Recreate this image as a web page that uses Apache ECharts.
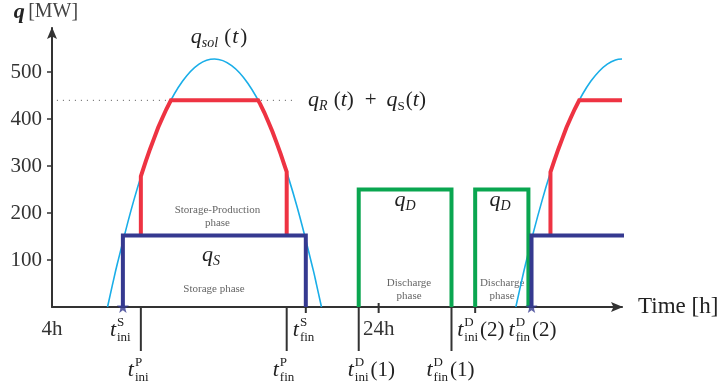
<!DOCTYPE html>
<html>
<head>
<meta charset="utf-8">
<script src="https://cdn.jsdelivr.net/npm/echarts@6/dist/echarts.min.js"></script>
<style>
  html, body { margin: 0; padding: 0; background: #fff; }
  #chart { width: 721px; height: 388px; }
</style>
</head>
<body>
<div id="chart"></div>
<script>
// ---- Data: time in hours, power in MW ----
// Solar field output q_sol(t), first day
const solarDay1 = [[7.4,0],[7.7,47],[8,92],[9,226],[10,336],[11,421],[12,481],[13,517],[13.95,528],[15,514],[16,476],[17,414],[18,326],[19,214],[20,78],[20.2,47],[20.5,0]];
// Solar field output, start of the following day (cut at the end of the time axis)
const solarDay2 = [[32.4,0],[32.7,47],[33,92],[33.5,162],[34,226],[34.5,284],[35,336],[35.5,382],[36,421],[36.5,454],[37,481],[37.5,502],[38,517],[38.5,526],[38.9,528]];
// Receiver + storage limit q_R(t) + q_S(t)
const limitLine = [[4.3,440],[18.94,440]];
// Production (solar output clipped at the limit) during the storage-production phase
const production1 = [[9.44,152],[9.44,278],[9.75,311],[10,336],[10.25,359],[10.5,382],[10.75,402],[11,421],[11.28,440],[16.62,440],[16.75,432],[17,414],[17.25,394],[17.5,373],[17.75,350],[18,326],[18.25,300],[18.37,288],[18.37,152]];
const production2 = [[34.52,152],[34.52,287],[34.75,311],[35,336],[35.25,359],[35.5,382],[35.75,402],[36,421],[36.28,440],[38.9,440]];
// Storage charging q_S
const storage1 = [[8.34,0],[8.34,152],[19.54,152],[19.54,0]];
const storage2 = [[33.36,0],[33.36,152],[39.1,152]];
// Discharge q_D
const discharge1 = [[22.78,0],[22.78,250],[28.46,250],[28.46,0]];
const discharge2 = [[29.91,0],[29.91,250],[33.17,250],[33.17,0]];
// Storage start instants
const storageStarts = [[8.34,0],[33.36,0]];
// Axis ticks
const yTickValues = [100,200,300,400,500];
const xTickHours = [4,24];
const longTickHours = [9.44,18.37,22.78,28.46];
const shortTickHours = [19.54,24,29.91];
// Time instants written under the axis
const markHours  = [8.34, 9.44, 18.37, 19.54, 22.78, 28.46, 29.91, 33.36];
const markSup    = ['S','P','P','S','D','D','D','D'];
const markSub    = ['ini','ini','fin','fin','ini','fin','ini','fin'];
const markSuffix = ['','','','','(1)','(1)','(2)','(2)'];

// ---- Styles ----
const FAM = '"Liberation Serif", "DejaVu Serif", serif';
const F_MI = 'italic 22px ' + FAM;
const F_MR = '21px ' + FAM;
const F_SC = '13px ' + FAM;
const F_SCI = 'italic 14px ' + FAM;
const INK = '#222';
const AXIS = '#333';
const C_SOL = '#1aaee8', C_RED = '#ee3342', C_NAVY = '#353990', C_GREEN = '#0aa650';
const ARROW = 'path://M5,0L10,12L5,9.5L0,12Z';

// under-axis label rows and horizontal offsets (px) of each instant label
const markLayout = [
  {row:1, dx:-13}, {row:2, dx:-13}, {row:2, dx:-14}, {row:1, dx:-13},
  {row:2, dx:-11}, {row:2, dx:-25}, {row:1, dx:-18}, {row:1, dx:-23}
];

const measureCtx = document.createElement('canvas').getContext('2d');
function textWidth(s, font) { measureCtx.font = font; return measureCtx.measureText(s).width; }

// lays out a small formula from pieces: plain text, gaps and stacked scripts
function buildMath(parts, x0, y, align, color) {
  const items = [];
  let x = 0;
  parts.forEach(p => {
    if (p.gap) { x += p.gap; return; }
    if (p.sup != null || p.sub != null) {
      let w = 0;
      if (p.sup) {
        const f = p.supFont || F_SC;
        items.push({s:p.sup, f, x, dy: p.supDy != null ? p.supDy : -7.5});
        w = Math.max(w, textWidth(p.sup, f));
      }
      if (p.sub) {
        const f = p.subFont || F_SC;
        items.push({s:p.sub, f, x, dy: p.subDy != null ? p.subDy : 7.5});
        w = Math.max(w, textWidth(p.sub, f));
      }
      x += w;
      return;
    }
    items.push({s:p.t, f:p.f, x, dy:0});
    x += textWidth(p.t, p.f);
  });
  const shift = align === 'center' ? -x / 2 : 0;
  return items.map(it => ({
    type: 'text', x: x0 + shift + it.x, y: y + it.dy,
    style: { text: it.s, font: it.f, fill: color, align: 'left', verticalAlign: 'middle' }
  }));
}
const q = () => ({t:'q', f:F_MI});
const qsub = (s, italic) => ({sub:s, subFont: italic ? F_SCI : F_SC, subDy:6});
const paren = () => [{t:'(', f:F_MR}, {t:'t', f:F_MI}, {t:')', f:F_MR}];

const formulas = [
  {at:[14.23,574], align:'center', parts:[q(), qsub('sol', true), {gap:6}, {t:'(', f:F_MR}, {gap:1}, {t:'t', f:F_MI}, {gap:2}, {t:')', f:F_MR}]},
  {at:[19.68,440], align:'left', parts:[q(), qsub('R', true), {gap:6}, ...paren(), {gap:11}, {t:'+', f:F_MR}, {gap:10}, q(), qsub('S', false), {gap:1}, ...paren()]},
  {at:[13.74,111], align:'center', parts:[q(), qsub('S', true)]},
  {at:[25.62,228], align:'center', parts:[q(), qsub('D', true)]},
  {at:[31.43,228], align:'center', parts:[q(), qsub('D', true)]}
];
const phaseNotes = [
  {at:[14.13,193], text:'Storage-Production\nphase'},
  {at:[13.92,39], text:'Storage phase'},
  {at:[25.86,37], text:'Discharge\nphase'},
  {at:[31.56,37], text:'Discharge\nphase'}
];

const STAR = 'path://M0,-10L2.35,-3.24L9.51,-3.09L3.8,1.24L5.88,8.09L0,4L-5.88,8.09L-3.8,1.24L-9.51,-3.09L-2.35,-3.24Z';

function lineSeries(data, color, width, z, extra) {
  return Object.assign({
    type: 'line', data, symbol: 'none', z,
    lineStyle: { color, width, cap: 'butt', join: 'miter' }, silent: true
  }, extra || {});
}

const chart = echarts.init(document.getElementById('chart'), null, { renderer: 'canvas' });
chart.setOption({
  animation: false,
  backgroundColor: '#fff',
  grid: { left: 52, right: 99, top: 28, bottom: 81, containLabel: false, outerBoundsMode: 'none' },
  xAxis: {
    type: 'value', min: 4, max: 38.9,
    name: 'Time [h]', nameLocation: 'end', nameGap: 16,
    nameTextStyle: { fontFamily: FAM, fontSize: 23, color: INK, verticalAlign: 'middle' },
    axisLine: { show: true, onZero: false, symbol: ['none', ARROW], symbolSize: [10,12], symbolOffset: [0,-5],
      lineStyle: { color: AXIS, width: 2 } },
    axisTick: { show: false },
    splitLine: { show: false },
    axisLabel: { customValues: xTickHours, formatter: v => v + 'h', margin: 12,
      fontFamily: FAM, fontSize: 21, color: AXIS }
  },
  yAxis: {
    type: 'value', min: 0, max: 594,
    name: '{q|q} {u|[MW]}', nameLocation: 'end', nameGap: 5,
    nameTextStyle: { padding: [0, 12, 0, 0], rich: {
      q: { fontFamily: FAM, fontSize: 22, fontStyle: 'italic', fontWeight: 'bold', color: INK },
      u: { fontFamily: FAM, fontSize: 20, color: '#444' } } },
    axisLine: { show: true, symbol: ['none', ARROW], symbolSize: [10,12], symbolOffset: [0,-5],
      lineStyle: { color: AXIS, width: 2 } },
    axisTick: { show: true, customValues: yTickValues, length: 5, lineStyle: { color: AXIS, width: 1.5 } },
    splitLine: { show: false },
    axisLabel: { customValues: yTickValues, margin: 10, fontFamily: FAM, fontSize: 21, color: AXIS }
  },
  series: [
    {
      type: 'custom', z: 1, silent: true, clip: false,
      data: phaseNotes.map(n => n.at), encode: { x: 0, y: 1 },
      renderItem: (params, api) => {
        const n = phaseNotes[params.dataIndex];
        const p = api.coord(n.at);
        return { type: 'text', x: p[0], y: p[1], style: {
          text: n.text, font: '11px ' + FAM, fill: '#666', align: 'center', verticalAlign: 'middle', lineHeight: 13 } };
      }
    },
    lineSeries(solarDay1, C_SOL, 1.6, 2, { smooth: 0.4 }),
    lineSeries(solarDay2, C_SOL, 1.6, 2, { smooth: 0.4 }),
    lineSeries(limitLine, '#555', 1, 2, { lineStyle: { color: '#555', width: 1, type: [1, 5] } }),
    lineSeries(production1, C_RED, 4, 3),
    lineSeries(production2, C_RED, 4, 3),
    lineSeries(discharge1, C_GREEN, 4, 4),
    lineSeries(discharge2, C_GREEN, 4, 4),
    lineSeries(storage1, C_NAVY, 4, 5),
    lineSeries(storage2, C_NAVY, 4, 5, { clip: false }),
    {
      type: 'scatter', data: storageStarts, symbol: STAR, symbolSize: 12, z: 6, clip: false, silent: true,
      itemStyle: { color: C_NAVY }
    },
    {
      type: 'custom', z: 3, silent: true, clip: false,
      data: longTickHours.map(h => [h, 0]), encode: { x: 0, y: 1 },
      renderItem: (params, api) => {
        const p = api.coord([api.value(0), 0]);
        return { type: 'line', shape: { x1: p[0], y1: p[1], x2: p[0], y2: p[1] + 44 },
          style: { stroke: AXIS, lineWidth: 2 } };
      }
    },
    {
      type: 'custom', z: 3, silent: true, clip: false,
      data: shortTickHours.map(h => [h, 0]), encode: { x: 0, y: 1 },
      renderItem: (params, api) => {
        const p = api.coord([api.value(0), 0]);
        return { type: 'line', shape: { x1: p[0], y1: p[1] - 4, x2: p[0], y2: p[1] + 6 },
          style: { stroke: AXIS, lineWidth: 2 } };
      }
    },
    {
      type: 'custom', z: 7, silent: true, clip: false,
      data: markHours.map(h => [h, 0]), encode: { x: 0, y: 1 },
      renderItem: (params, api) => {
        const i = params.dataIndex;
        const lay = markLayout[i];
        const p = api.coord([markHours[i], 0]);
        const y = p[1] + (lay.row === 1 ? 23 : 63);
        const parts = [{t:'t', f:F_MI}, {gap:1}, {sup: markSup[i], sub: markSub[i]}];
        if (markSuffix[i]) parts.push({gap:2}, {t: markSuffix[i], f: F_MR});
        return { type: 'group', children: buildMath(parts, p[0] + lay.dx, y, 'left', INK) };
      }
    },
    {
      type: 'custom', z: 7, silent: true, clip: false,
      data: formulas.map(f => f.at), encode: { x: 0, y: 1 },
      renderItem: (params, api) => {
        const f = formulas[params.dataIndex];
        const p = api.coord(f.at);
        return { type: 'group', children: buildMath(f.parts, p[0], p[1], f.align, INK) };
      }
    }
  ]
});
</script>
</body>
</html>
